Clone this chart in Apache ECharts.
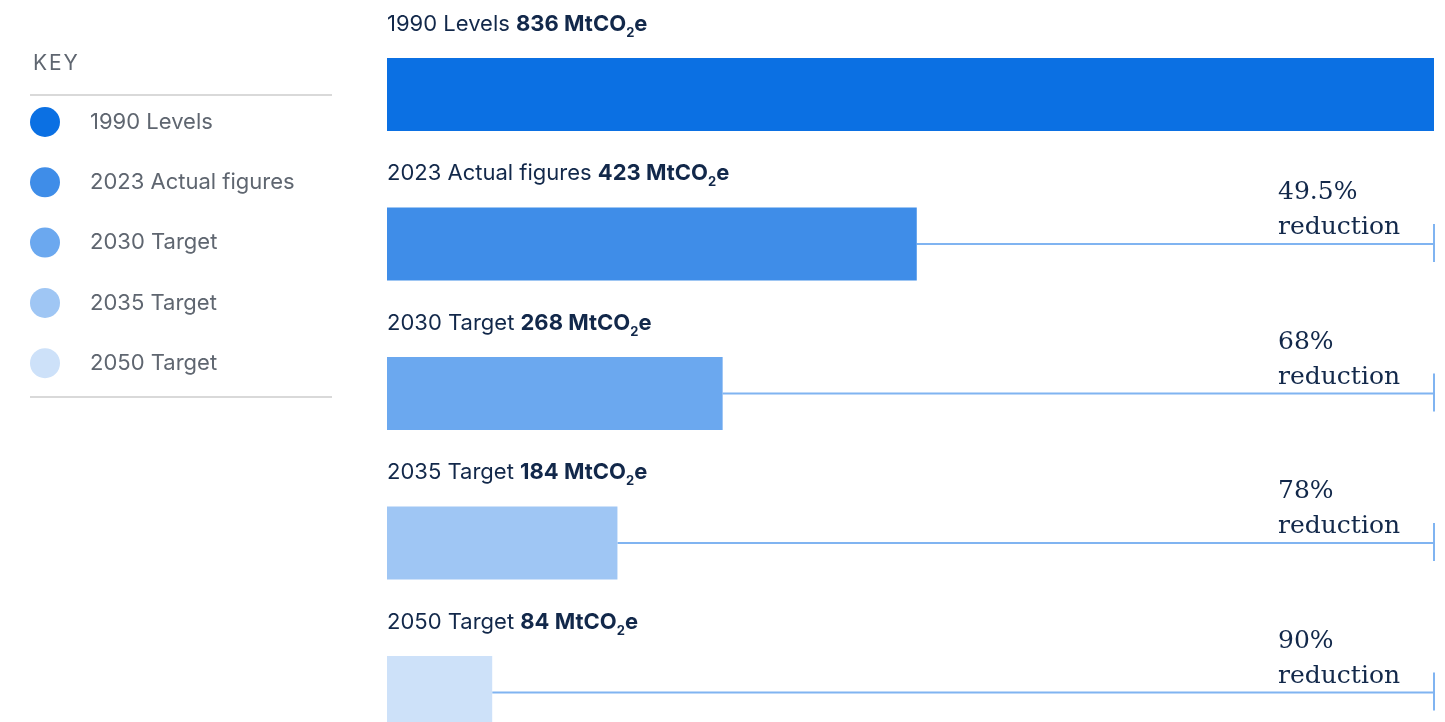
<!DOCTYPE html>
<html>
<head>
<meta charset="utf-8">
<script src="https://cdn.jsdelivr.net/npm/echarts@6/dist/echarts.min.js"></script>
<style>
  html, body { margin: 0; padding: 0; background: #fff; }
  #main { width: 1445px; height: 722px; }
</style>
</head>
<body>
<div id="main"></div>
<script>
  // data
  var names = ['1990 Levels', '2023 Actual figures', '2030 Target', '2035 Target', '2050 Target'];
  var values = [836, 423, 268, 184, 84];
  var reductions = ['', '49.5%', '68%', '78%', '90%'];
  var colors = ['#0b70e3', '#3f8de8', '#6ba8ef', '#9fc6f4', '#cde1f9'];

  var navy = '#12284a';
  var lineColor = '#80b4f1';
  var baseValue = values[0];

  var series = names.map(function (name, i) {
    return {
      name: name,
      type: 'bar',
      stack: 'all',
      barWidth: 73,
      clip: false,
      itemStyle: { color: colors[i] },
      label: {
        show: true,
        position: [0, -34],
        verticalAlign: 'middle',
        align: 'left',
        formatter: '{n|' + name + ' }{b|' + values[i] + ' MtCO}{s|2}{b|e}',
        rich: {
          n: { fontFamily: 'Inter', fontSize: 22, color: navy },
          b: { fontFamily: 'Inter', fontSize: 22, fontWeight: 'bold', color: navy },
          s: { fontFamily: 'Inter', fontSize: 13, fontWeight: 'bold', color: navy, padding: [18, 0, 0, 0] }
        }
      },
      data: values.map(function (v, j) { return j === i ? v : '-'; })
    };
  });

  // reduction connectors
  var reductionData = [];
  values.forEach(function (v, i) {
    if (reductions[i]) reductionData.push([v, i, reductions[i]]);
  });

  series.push({
    type: 'custom',
    silent: true,
    clip: false,
    data: reductionData,
    renderItem: function (params, api) {
      var start = api.coord([api.value(0), api.value(1)]);
      var end = api.coord([baseValue, api.value(1)]);
      var txt = reductionData[params.dataIndex][2];
      return {
        type: 'group',
        children: [
          { type: 'line', shape: { x1: start[0], y1: start[1], x2: end[0], y2: end[1] },
            style: { stroke: lineColor, lineWidth: 2 } },
          { type: 'line', shape: { x1: end[0], y1: end[1] - 20, x2: end[0], y2: end[1] + 18 },
            style: { stroke: lineColor, lineWidth: 2 } },
          { type: 'text', x: end[0] - 156, y: end[1] + 1,
            style: { text: txt + '\nreduction', fill: navy, font: '25px "DejaVu Serif"',
                     lineHeight: 35, verticalAlign: 'bottom', align: 'left' } }
        ]
      };
    }
  });

  var option = {
    animation: false,
    title: {
      text: 'K\u200aE\u200aY',
      left: 28,
      top: 48,
      textStyle: { fontFamily: 'Inter', fontSize: 21, fontWeight: 'normal', color: '#5f6670' }
    },
    legend: {
      data: names,
      orient: 'vertical',
      left: 30,
      top: 107,
      padding: 0,
      icon: 'circle',
      itemWidth: 30,
      itemHeight: 30,
      itemGap: 30.3,
      selectedMode: false,
      textStyle: { fontFamily: 'Inter', fontSize: 22, color: '#5f6670', padding: [0, 0, 0, 25] }
    },
    graphic: [
      { type: 'line', shape: { x1: 30, y1: 95, x2: 332, y2: 95 }, style: { stroke: '#d9d9d9', lineWidth: 2 } },
      { type: 'line', shape: { x1: 30, y1: 397, x2: 332, y2: 397 }, style: { stroke: '#d9d9d9', lineWidth: 2 } }
    ],
    grid: { left: 387, right: 11, top: 94.5, bottom: 29.5 },
    xAxis: { type: 'value', min: 0, max: baseValue, show: false },
    yAxis: { type: 'category', data: names, inverse: true, boundaryGap: false, show: false },
    series: series
  };

  var myChart = echarts.init(document.getElementById('main'));
  myChart.setOption(option);
</script>
</body>
</html>
